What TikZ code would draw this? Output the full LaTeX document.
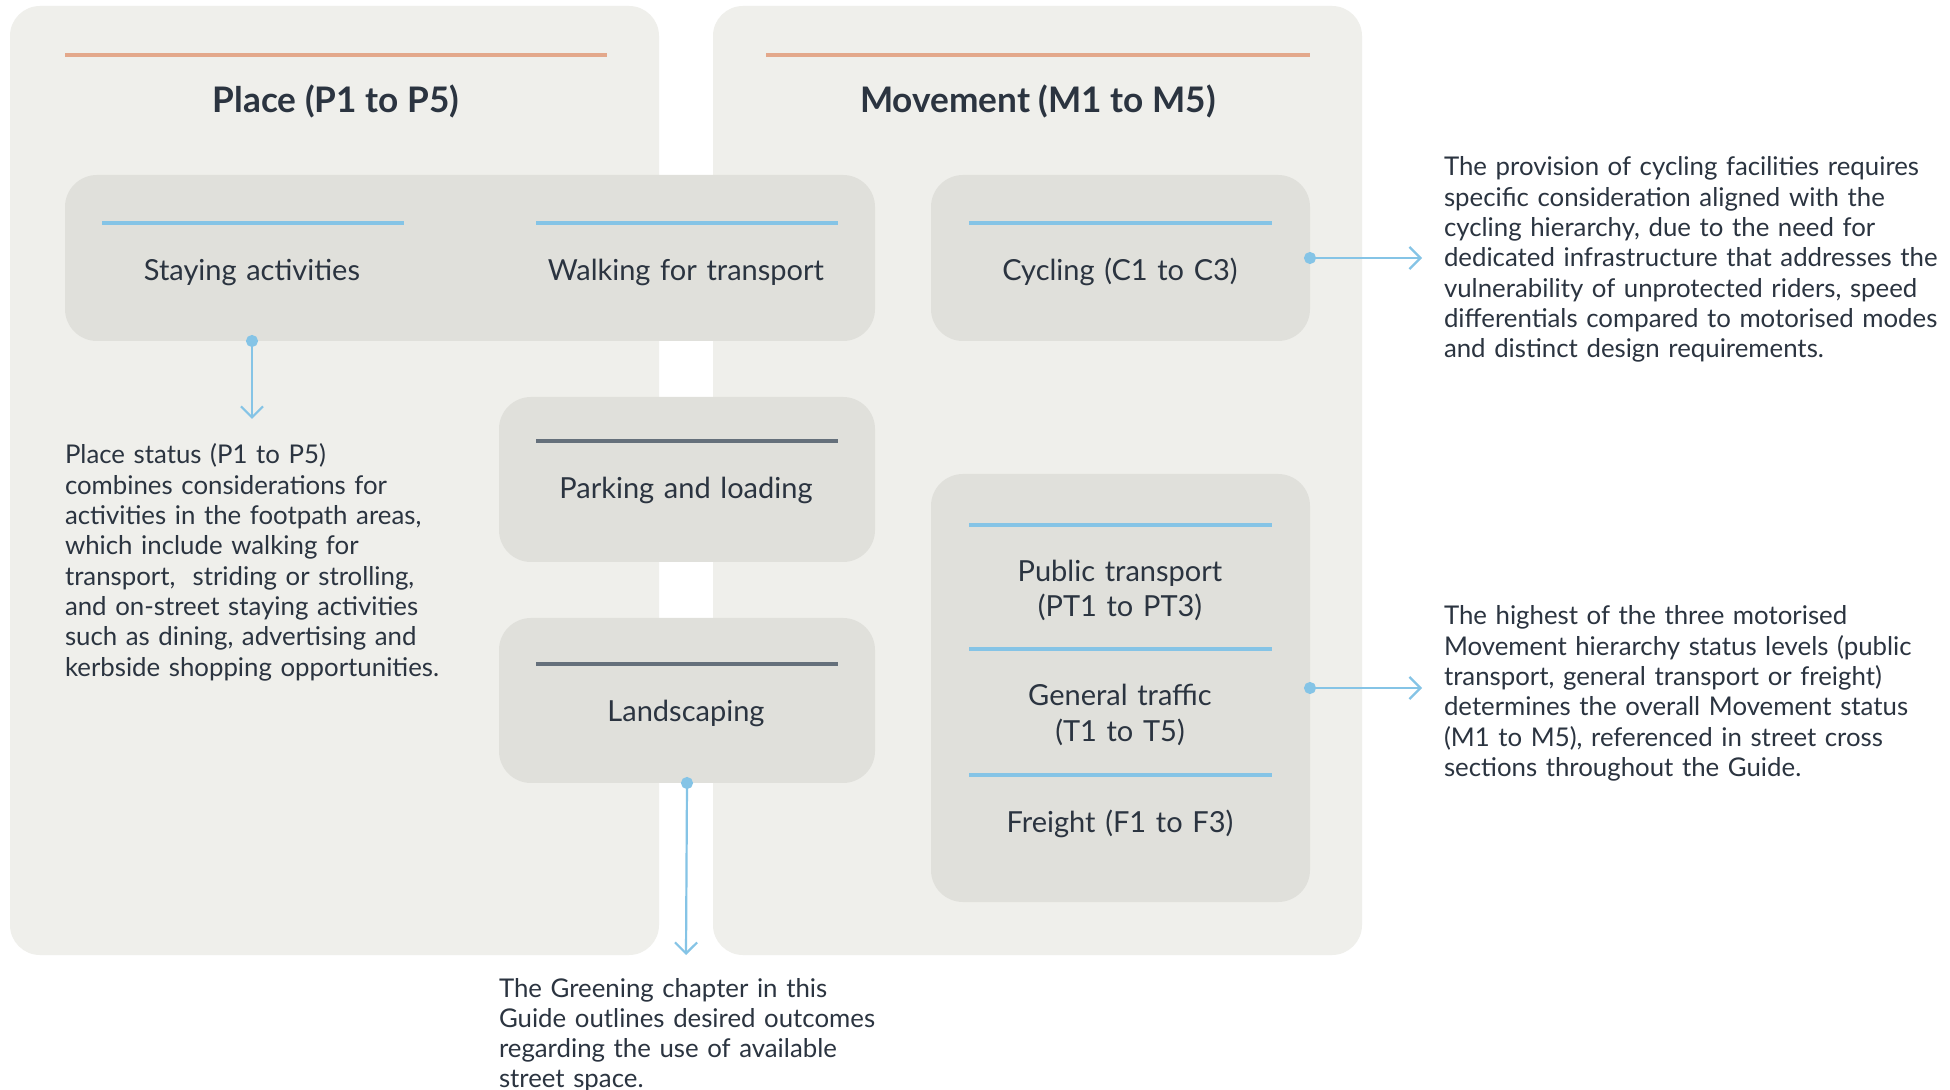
\documentclass[tikz,border=0pt]{standalone}
\usepackage{fontspec}
\setmainfont{Lato}
\usetikzlibrary{arrows.meta}
\definecolor{panelbg}{HTML}{EFEFEB}
\definecolor{boxbg}{HTML}{E0E0DB}
\definecolor{accentblue}{HTML}{85C4E6}
\definecolor{slate}{HTML}{65707B}
\definecolor{salmon}{HTML}{E3A88B}
\definecolor{ink}{HTML}{2B3440}
\begin{document}
\begin{tikzpicture}[x=0.5pt,y=-0.5pt,
  every node/.style={text=ink, inner sep=0pt, outer sep=0pt},
  panel/.style={fill=panelbg, rounded corners=15pt},
  box/.style={fill=boxbg, rounded corners=16pt, anchor=north west},
  bluerule/.style={line width=2pt, draw=accentblue},
  darkrule/.style={line width=2pt, draw=slate},
  headrule/.style={line width=2.2pt, draw=salmon},
  title/.style={font=\fontsize{17.6}{21}\selectfont\bfseries, anchor=base},
  label/.style={font=\fontsize{14.5}{17.5}\selectfont, anchor=base, align=center, text width=180pt},
  note/.style={font=\fontsize{12.9}{15.15}\selectfont, anchor=base west, align=left, text width=300pt},
  conn/.style={draw=accentblue, line width=1.1pt,
    {Circle[length=6pt]}-{Straight Barb[length=5.5pt,width=11pt]}, shorten <=-3pt},
]
% page
\fill[white] (0,0) rectangle (1950,1090);
\useasboundingbox (0,0) rectangle (1950,1090);

% the two hierarchy panels
\path[panel] (10,6) rectangle (659,955);
\path[panel] (713,6) rectangle (1362,955);
\draw[headrule] (65,55) -- (607,55);
\draw[headrule] (766,55) -- (1310,55);
\node[title] (placetitle) at (336,113) {Place (P1 to P5)};
\node[title] (movetitle) at (1038,113) {Movement (M1 to M5)};

% place boxes
\node[box, minimum width=405pt, minimum height=83pt] (big) at (65,175) {};
\draw[bluerule] (102,223) -- (404,223);
\draw[bluerule] (536,223) -- (838,223);
\node[label] (stay) at (252,281) {Staying activities};
\node[label] (walk) at (686,281) {Walking for transport};

\node[box, minimum width=188pt, minimum height=82.5pt] (park) at (499,397) {};
\draw[darkrule] (536,441) -- (838,441);
\node[label] (parklabel) at (686,499) {Parking and loading};

\node[box, minimum width=188pt, minimum height=82.5pt] (land) at (499,618) {};
\draw[darkrule] (536,664) -- (838,664);
\node[label] (landlabel) at (686,722) {Landscaping};

% movement boxes
\node[box, minimum width=189.5pt, minimum height=83pt] (cyc) at (931,175) {};
\draw[bluerule] (969,223) -- (1272,223);
\node[label] (cyclabel) at (1120,281) {Cycling (C1 to C3)};

\node[box, minimum width=189.5pt, minimum height=214pt] (stack) at (931,474) {};
\draw[bluerule] (969,525) -- (1272,525);
\draw[bluerule] (969,649) -- (1272,649);
\draw[bluerule] (969,775) -- (1272,775);
\node[label] (pt) at (1120,582) {Public transport\\(PT1 to PT3)};
\node[label] (gt) at (1120,706) {General traffic\\(T1 to T5)};
\node[label] (fr) at (1120,832) {Freight (F1 to F3)};

% notes
\node[note] (placenote) at (65,464) {Place status (P1 to P5)\\combines considerations for\\activities in the footpath areas,\\which include walking for\\transport,\ \ striding or strolling,\\and on-street staying activities\\such as dining, advertising and\\kerbside shopping opportunities.};
\node[note] (greennote) at (499,997) {The Greening chapter in this\\Guide outlines desired outcomes\\regarding the use of available\\street space.};
\node[note] (cycnote) at (1444,176) {The provision of cycling facilities requires\\specific consideration aligned with the\\cycling hierarchy, due to the need for\\dedicated infrastructure that addresses the\\vulnerability of unprotected riders, speed\\differentials compared to motorised modes\\and distinct design requirements.};
\node[note] (motornote) at (1444,625) {The highest of the three motorised\\Movement hierarchy status levels (public\\transport, general transport or freight)\\determines the overall Movement status\\(M1 to M5), referenced in street cross\\sections throughout the Guide.};

% connectors
\coordinate (staytip) at (252,419);
\coordinate (landtip) at (686,955);
\coordinate (cyctip) at (1422,258);
\coordinate (motortip) at (1422,688);
\draw[conn] (stay |- big.south) -- (staytip);
\draw[conn] (land.south) -- (landtip);
\draw[conn] (cyc.east) -- (cyctip);
\draw[conn] (stack.east) -- (motortip);
\end{tikzpicture}
\end{document}
